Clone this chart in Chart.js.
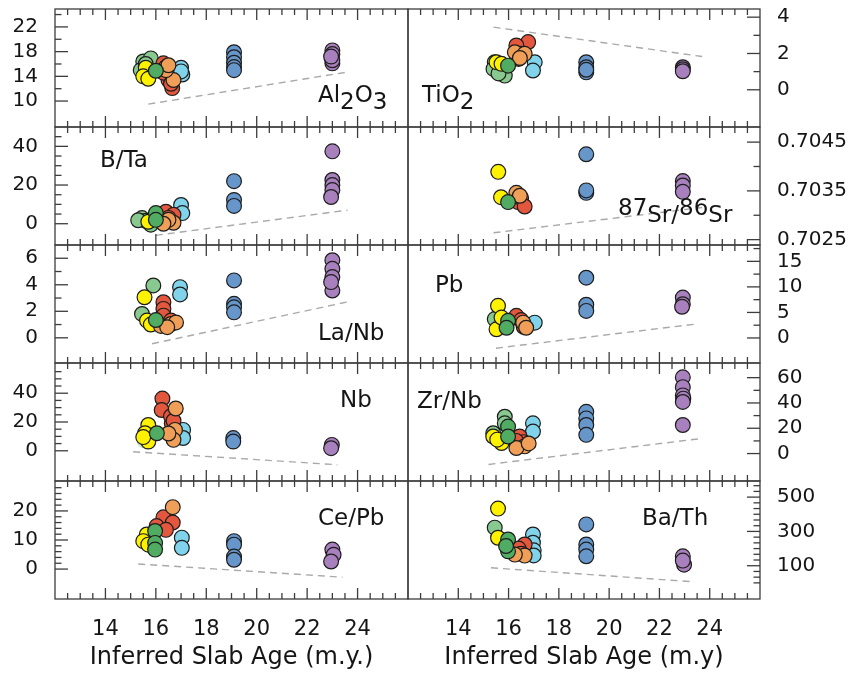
<!DOCTYPE html>
<html>
<head>
<meta charset="utf-8">
<script src="https://cdn.jsdelivr.net/npm/chart.js@4.4.0/dist/chart.umd.min.js"></script>
<style>
html, body { margin: 0; padding: 0; background: #fff; }
#wrap { position: relative; width: 855px; height: 675px; overflow: hidden; }
#wrap canvas { position: absolute; }
</style>
</head>
<body>
<div id="wrap"></div>
<script>
// --- DATA ---
const xRange = [12, 26];
const xTicks = [14, 16, 18, 20, 22, 24];
const xTitleLeft = 'Inferred Slab Age (m.y.)';
const xTitleRight = 'Inferred Slab Age (m.y)';

// [age, value, group]
const al2o3Pts = [
    [15.5, 16.4, 'lg'], [15.8, 16.9, 'lg'], [15.4, 15.0, 'lg'], [15.6, 16.0, 'lg'],
    [15.6, 15.4, 'ye'], [15.5, 14.0, 'ye'], [15.7, 13.6, 'ye'],
    [17.0, 15.4, 'lb'], [17.05, 14.3, 'lb'], [17.0, 14.8, 'lb'],
    [16.3, 16.1, 'rd'], [16.65, 12.1, 'rd'], [16.5, 13.4, 'rd'], [16.3, 14.6, 'rd'], [16.4, 15.5, 'rd'], [16.6, 12.8, 'rd'],
    [16.7, 13.4, 'or'], [16.4, 15.0, 'or'], [16.5, 15.8, 'or'],
    [16.0, 14.9, 'gr'],
    [19.1, 17.9, 'bl'], [19.1, 17.1, 'bl'], [19.1, 16.2, 'bl'], [19.1, 15.5, 'bl'], [19.1, 15.0, 'bl'],
    [23.0, 18.2, 'pu'], [23.0, 17.6, 'pu'], [23.0, 16.1, 'pu'], [23.0, 16.6, 'pu'], [22.95, 17.2, 'pu']
];
const btaPts = [
    [15.45, 2.9, 'lg'], [15.8, -0.5, 'lg'], [15.6, 1.5, 'lg'], [15.3, 1.8, 'lg'],
    [15.7, 1.0, 'ye'],
    [17.0, 9.7, 'lb'], [17.05, 5.5, 'lb'],
    [16.4, 6.2, 'rd'], [16.7, 4.6, 'rd'], [16.5, 3.0, 'rd'],
    [16.7, 0.5, 'or'], [16.5, 2.0, 'or'], [16.3, 0.0, 'or'],
    [16.0, 5.5, 'gr'], [16.0, 2.0, 'gr'],
    [19.1, 22.0, 'bl'], [19.1, 12.3, 'bl'], [19.1, 9.2, 'bl'],
    [23.0, 37.4, 'pu'], [23.0, 22.6, 'pu'], [23.0, 20.0, 'pu'], [23.0, 17.4, 'pu'], [22.95, 13.8, 'pu']
];
const lanbPts = [
    [15.9, 3.95, 'lg'], [15.45, 1.8, 'lg'],
    [15.55, 3.06, 'ye'], [15.65, 1.3, 'ye'], [15.8, 1.0, 'ye'],
    [16.96, 3.82, 'lb'], [16.96, 3.27, 'lb'],
    [16.3, 2.68, 'rd'], [16.3, 2.18, 'rd'], [16.3, 1.67, 'rd'], [16.6, 1.3, 'rd'],
    [16.6, 1.04, 'or'], [16.2, 0.9, 'or'], [16.8, 1.16, 'or'], [16.45, 0.8, 'or'],
    [16.0, 1.34, 'gr'],
    [19.1, 4.33, 'bl'], [19.1, 2.56, 'bl'], [19.1, 2.3, 'bl'], [19.1, 1.92, 'bl'],
    [23.0, 5.85, 'pu'], [23.0, 5.2, 'pu'], [23.0, 4.58, 'pu'], [23.0, 3.57, 'pu'], [22.95, 4.2, 'pu']
];
const nbPts = [
    [15.55, 7.0, 'fade'],
    [15.7, 17.9, 'ye'], [15.57, 12.2, 'ye'], [15.7, 6.4, 'ye'], [15.5, 9.5, 'ye'],
    [17.08, 14.5, 'lb'], [17.08, 8.9, 'lb'],
    [16.26, 36.3, 'rd'], [16.23, 28.3, 'rd'], [16.63, 19.1, 'rd'], [16.6, 24, 'rd'], [16.7, 20.9, 'rd'],
    [16.79, 29.4, 'or'], [16.76, 14.5, 'or'], [16.7, 7.6, 'or'], [16.5, 12, 'or'],
    [16.04, 12.2, 'gr'],
    [19.07, 8.8, 'bl'], [19.07, 6.4, 'bl'],
    [22.98, 4.1, 'pu'], [22.95, 1.8, 'pu']
];
const cepbPts = [
    [15.64, 11.9, 'ye'], [15.5, 9.6, 'ye'], [15.7, 8.4, 'ye'],
    [17.03, 10.8, 'lb'], [17.03, 7.3, 'lb'],
    [16.3, 17.8, 'rd'], [16.67, 16.0, 'rd'], [16.03, 14.8, 'rd'], [16.4, 13.5, 'rd'],
    [16.67, 21.3, 'or'],
    [15.97, 13.1, 'gr'], [15.97, 9.0, 'gr'], [15.97, 6.7, 'gr'],
    [19.1, 9.6, 'bl'], [19.1, 8.4, 'bl'], [19.1, 4.3, 'bl'], [19.1, 3.2, 'bl'],
    [23.0, 6.7, 'pu'], [23.05, 4.9, 'pu'], [22.95, 2.6, 'pu']
];
const tio2Pts = [
    [15.45, 1.52, 'lg'], [15.4, 1.15, 'lg'], [15.85, 0.78, 'lg'], [15.6, 0.9, 'lg'],
    [15.52, 1.52, 'ye'], [15.72, 1.43, 'ye'],
    [17.04, 1.52, 'lb'], [16.97, 1.06, 'lb'],
    [16.78, 2.63, 'rd'], [16.31, 2.44, 'rd'], [16.5, 1.98, 'rd'], [16.4, 1.7, 'rd'],
    [16.25, 2.07, 'or'], [16.64, 1.98, 'or'], [16.45, 1.75, 'or'],
    [15.98, 1.33, 'gr'],
    [19.09, 1.52, 'bl'], [19.09, 1.24, 'bl'], [19.09, 0.96, 'bl'], [19.09, 1.1, 'bl'],
    [22.93, 1.24, 'pu'], [22.93, 1.13, 'pu'], [22.93, 1.02, 'pu']
];
const srPts = [
    [15.59, 0.70389, 'ye'], [15.7, 0.70337, 'ye'],
    [16.31, 0.70346, 'or'], [16.45, 0.7034, 'or'],
    [16.38, 0.70327, 'rd'], [16.5, 0.70335, 'rd'], [16.64, 0.70318, 'rd'],
    [15.98, 0.70327, 'gr'],
    [19.09, 0.70425, 'bl'], [19.09, 0.70346, 'bl'], [19.09, 0.70351, 'bl'],
    [22.93, 0.7037, 'pu'], [22.93, 0.70361, 'pu'], [22.93, 0.70348, 'pu']
];
const pbPts = [
    [15.45, 3.7, 'lg'],
    [15.58, 6.3, 'ye'], [15.52, 1.7, 'ye'], [15.72, 4.0, 'ye'],
    [17.04, 3.0, 'lb'],
    [16.31, 4.34, 'rd'], [16.5, 3.5, 'rd'], [16.6, 2.2, 'rd'],
    [16.58, 3.0, 'or'], [16.7, 2.0, 'or'],
    [15.98, 3.35, 'gr'], [15.92, 2.0, 'gr'],
    [19.09, 11.8, 'bl'], [19.09, 6.5, 'bl'], [19.09, 5.3, 'bl'],
    [22.93, 7.9, 'pu'], [22.93, 6.6, 'pu'], [22.9, 6.1, 'pu']
];
const zrnbPts = [
    [15.85, 29.1, 'lg'], [15.85, 23.9, 'lg'], [15.39, 16.1, 'lg'],
    [15.39, 13.5, 'ye'], [15.72, 8.3, 'ye'], [15.55, 11, 'ye'],
    [16.97, 23.9, 'lb'], [16.97, 17.4, 'lb'],
    [16.44, 13.5, 'rd'], [16.6, 9, 'rd'], [16.3, 10, 'rd'],
    [16.64, 5.7, 'or'], [16.31, 4.4, 'or'], [16.8, 8, 'or'],
    [15.98, 21.3, 'gr'], [15.98, 13.5, 'gr'],
    [19.09, 33.0, 'bl'], [19.09, 27.8, 'bl'], [19.09, 22.6, 'bl'], [19.09, 14.8, 'bl'],
    [22.93, 60.3, 'pu'], [22.93, 52.5, 'pu'], [22.93, 46, 'pu'], [22.95, 43.4, 'pu'], [22.93, 40.8, 'pu'], [22.93, 22.6, 'pu']
];
const bathPts = [
    [15.45, 322, 'lg'],
    [15.58, 433, 'ye'], [15.58, 263, 'ye'],
    [16.97, 282, 'lb'], [16.97, 234, 'lb'], [17.0, 190, 'lb'], [17.0, 160, 'lb'],
    [16.64, 224, 'rd'], [16.4, 200, 'rd'], [16.5, 170, 'rd'],
    [16.64, 159, 'or'], [16.25, 165, 'or'],
    [15.98, 253, 'gr'], [15.98, 184, 'gr'], [15.9, 215, 'gr'],
    [19.09, 341, 'bl'], [19.09, 224, 'bl'], [19.09, 194, 'bl'], [19.09, 155, 'bl'],
    [22.93, 155, 'pu'], [22.98, 106, 'pu'], [22.93, 130, 'pu']
];

// dashed trend lines (two end points each)
const al2o3Trend = [[15.7, 9.5], [23.6, 14.7]];
const btaTrend = [[16.0, -6], [23.6, 7]];
const lanbTrend = [[15.85, -0.45], [23.7, 2.75]];
const nbTrend = [[15.1, -0.7], [23.2, -9.7]];
const cepbTrend = [[15.3, 1.75], [23.4, -2.8]];
const tio2Trend = [[15.4, 3.45], [23.7, 1.83]];
const srTrend = [[15.4, 0.70264], [23.7, 0.70316]];
const pbTrend = [[15.5, -2], [23.5, 2.75]];
const zrnbTrend = [[15.2, -8.6], [23.6, 11.7]];
const bathTrend = [[15.3, 88], [23.4, 6]];

// y axis limits, labelled ticks, minor ticks [from, to, step]
const al2o3Range = [5.8, 24.9], al2o3Ticks = [10, 14, 18, 22], al2o3Minor = [10, 24, 2];
const btaRange = [-11, 50], btaTicks = [0, 20, 40], btaMinor = [0, 45, 5];
const lanbRange = [-1.9, 7], lanbTicks = [0, 2, 4, 6], lanbMinor = [0, 6, 1];
const nbRange = [-21, 61], nbTicks = [0, 20, 40], nbMinor = [0, 55, 5];
const cepbRange = [-10.3, 30.3], cepbTicks = [0, 10, 20], cepbMinor = [0, 28, 2];
const tio2Range = [-2.05, 4.45], tio2Ticks = [0, 2, 4], tio2Minor = [0, 4, 1];
const srRange = [0.70239, 0.70481], srTicks = [0.7025, 0.7035, 0.7045], srMinor = [0.7025, 0.7045, 0.0005];
const pbRange = [-4.9, 18.2], pbTicks = [0, 5, 10, 15], pbMinor = [0, 17.5, 2.5];
const zrnbRange = [-21.7, 71.6], zrnbTicks = [0, 20, 40, 60], zrnbMinor = [0, 60, 10];
const bathRange = [-94, 594], bathTicks = [100, 300, 500], bathMinor = [0, 566.7, 100 / 3];

// --- STYLE / LAYOUT ---
const FONT = 'DejaVu Sans';
const groupColor = {
    fade: 'rgba(125,200,135,0.35)', lg: '#88c98f', ye: '#fff200', lb: '#80d3ea',
    rd: '#e2573d', or: '#ef9f58', gr: '#50ac62', bl: '#6796cb', pu: '#a880bd'
};
const drawOrder = ['fade', 'lg', 'ye', 'lb', 'rd', 'or', 'gr', 'bl', 'pu'];

const ROW_TOP = 9, ROW_H = 118;

const panels = [
    { row: 0, col: 0, pts: al2o3Pts, trend: al2o3Trend, range: al2o3Range, ticks: al2o3Ticks, minor: al2o3Minor,
      label: [['Al', 0], ['2', 1], ['O', 0], ['3', 1]], lx: 263, ly: 93 },
    { row: 1, col: 0, pts: btaPts, trend: btaTrend, range: btaRange, ticks: btaTicks, minor: btaMinor,
      label: [['B/Ta', 0]], lx: 45, ly: 40 },
    { row: 2, col: 0, pts: lanbPts, trend: lanbTrend, range: lanbRange, ticks: lanbTicks, minor: lanbMinor,
      label: [['La/Nb', 0]], lx: 263, ly: 95 },
    { row: 3, col: 0, pts: nbPts, trend: nbTrend, range: nbRange, ticks: nbTicks, minor: nbMinor,
      label: [['Nb', 0]], lx: 285, ly: 44 },
    { row: 4, col: 0, pts: cepbPts, trend: cepbTrend, range: cepbRange, ticks: cepbTicks, minor: cepbMinor,
      label: [['Ce/Pb', 0]], lx: 263, ly: 44 },
    { row: 0, col: 1, pts: tio2Pts, trend: tio2Trend, range: tio2Range, ticks: tio2Ticks, minor: tio2Minor,
      label: [['TiO', 0], ['2', 1]], lx: 14, ly: 93 },
    { row: 1, col: 1, pts: srPts, trend: srTrend, range: srRange, ticks: srTicks, minor: srMinor,
      label: [['87', -1], ['Sr/', 0], ['86', -1], ['Sr', 0]], lx: 210, ly: 95, decimals: 4 },
    { row: 2, col: 1, pts: pbPts, trend: pbTrend, range: pbRange, ticks: pbTicks, minor: pbMinor,
      label: [['Pb', 0]], lx: 27, ly: 47 },
    { row: 3, col: 1, pts: zrnbPts, trend: zrnbTrend, range: zrnbRange, ticks: zrnbTicks, minor: zrnbMinor,
      label: [['Zr/Nb', 0]], lx: 9, ly: 45 },
    { row: 4, col: 1, pts: bathPts, trend: bathTrend, range: bathRange, ticks: bathTicks, minor: bathMinor,
      label: [['Ba/Th', 0]], lx: 234, ly: 44 }
];

// frame, inward ticks and panel label
const panelDeco = {
    id: 'panelDeco',
    afterDraw(chart, args, o) {
        const { ctx, chartArea: a, scales: { x, y } } = chart;
        ctx.save();
        ctx.strokeStyle = '#3c3c3c';
        ctx.lineWidth = 1.3;
        const seg = (x1, y1, x2, y2) => { ctx.beginPath(); ctx.moveTo(x1, y1); ctx.lineTo(x2, y2); ctx.stroke(); };

        // x ticks every 0.5, long every 2
        for (let i = 1; i < (xRange[1] - xRange[0]) * 2; i++) {
            const v = xRange[0] + i * 0.5;
            const px = x.getPixelForValue(v);
            const len = i % 4 === 0 ? 11 : 6;
            seg(px, a.top, px, a.top + len);
            seg(px, a.bottom, px, a.bottom - len);
        }
        // y ticks on outer side
        const [from, to, step] = o.minor;
        const ex = o.left ? a.left : a.right, dir = o.left ? 1 : -1;
        const n = Math.round((to - from) / step);
        for (let i = 0; i <= n; i++) {
            const v = from + i * step;
            const py = y.getPixelForValue(v);
            const major = o.ticks.some(t => Math.abs(t - v) < step * 0.05);
            seg(ex, py, ex + dir * (major ? 13 : 6.5), py);
        }
        ctx.strokeRect(a.left, a.top, a.right - a.left, a.bottom - a.top);

        // label with sub/superscripts at full size
        ctx.fillStyle = '#151515';
        ctx.font = `23px "${FONT}"`;
        ctx.textBaseline = 'alphabetic';
        let lx = a.left + o.lx;
        o.label.forEach(([txt, shift]) => {
            ctx.fillText(txt, lx, a.top + o.ly + shift * 7);
            lx += ctx.measureText(txt).width;
        });
        ctx.restore();
    }
};

Chart.defaults.font.family = FONT;

const wrap = document.getElementById('wrap');

panels.forEach(p => {
    const left = p.col === 0;
    const bottom = p.row === 4;
    const top = ROW_TOP + ROW_H * p.row - 2;
    const cx = left ? 0 : 406;
    const cw = left ? 411 : 449;
    const ch = bottom ? 675 - top : ROW_H + 4;

    const cv = document.createElement('canvas');
    cv.width = cw; cv.height = ch;
    cv.style.left = cx + 'px'; cv.style.top = top + 'px';
    wrap.appendChild(cv);

    // later groups on top -> reverse (Chart.js draws dataset 0 last)
    const datasets = drawOrder.slice().reverse().map(k => ({
        data: p.pts.filter(d => d[2] === k).map(d => ({ x: d[0], y: d[1] })),
        backgroundColor: groupColor[k],
        borderColor: k === 'fade' ? 'rgba(125,200,135,0.25)' : '#1c1c1c',
        borderWidth: 1.2,
        pointRadius: 7.4,
        pointHoverRadius: 7.4
    }));
    datasets.push({
        data: p.trend.map(d => ({ x: d[0], y: d[1] })),
        showLine: true,
        borderColor: '#a9a9a9',
        borderWidth: 1.4,
        borderDash: [7, 5],
        pointRadius: 0,
        fill: false
    });

    new Chart(cv, {
        type: 'scatter',
        data: { datasets },
        options: {
            responsive: false,
            animation: false,
            devicePixelRatio: 1,
            layout: {
                autoPadding: false,
                padding: { top: 2, bottom: bottom ? 0 : 2, left: left ? 0 : 2, right: left ? 3 : 0 }
            },
            plugins: {
                legend: { display: false },
                tooltip: { enabled: false },
                panelDeco: { left, minor: p.minor, ticks: p.ticks, label: p.label, lx: p.lx, ly: p.ly }
            },
            scales: {
                x: {
                    type: 'linear', position: 'bottom', min: xRange[0], max: xRange[1],
                    grid: { display: false, drawTicks: false },
                    border: { display: false },
                    afterBuildTicks: s => { s.ticks = xTicks.map(v => ({ value: v })); },
                    ticks: { display: bottom, padding: 18, color: '#151515', font: { size: 21 }, autoSkip: false, maxRotation: 0 },
                    title: {
                        display: bottom, text: left ? xTitleLeft : xTitleRight, color: '#151515',
                        font: { size: 24 }, padding: { top: 0, bottom: 3 }
                    },
                    afterFit: s => {
                        s.height = bottom ? 76 : 0;
                        s.paddingLeft = 0; s.paddingRight = 0;
                    }
                },
                y: {
                    type: 'linear', position: left ? 'left' : 'right', min: p.range[0], max: p.range[1],
                    grid: { display: false, drawTicks: false },
                    border: { display: false },
                    afterBuildTicks: s => { s.ticks = p.ticks.map(v => ({ value: v })); },
                    ticks: {
                        padding: 17, color: '#151515', font: { size: 20 }, autoSkip: false,
                        callback: v => p.decimals ? v.toFixed(p.decimals) : String(v)
                    },
                    afterFit: s => {
                        s.width = left ? 55 : 95;
                        s.paddingTop = 0; s.paddingBottom = 0;
                    }
                }
            }
        },
        plugins: [panelDeco]
    });
});
</script>
</body>
</html>
